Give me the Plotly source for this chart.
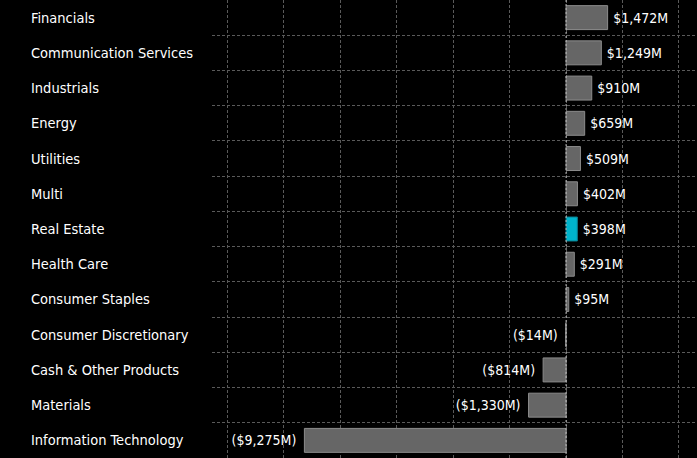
import plotly.graph_objects as go

categories = ["Financials", "Communication Services", "Industrials", "Energy", "Utilities",
              "Multi", "Real Estate", "Health Care", "Consumer Staples",
              "Consumer Discretionary", "Cash & Other Products", "Materials",
              "Information Technology"]
values = [1472, 1249, 910, 659, 509, 402, 398, 291, 95, -14, -814, -1330, -9275]
highlight = "Real Estate"

def fmt(v):
    s = "${:,}M".format(abs(v))
    return "(" + s + ")\u2009\u2009" if v < 0 else "\u2009" + s

labels = [fmt(v) for v in values]
colors = ["#00b4cc" if c == highlight else "#666666" for c in categories]
outlines = ["#0a7f90" if c == highlight else "#8c8c8c" for c in categories]

FONT = "DejaVu Sans Condensed"

fig = go.Figure(go.Bar(
    y=categories, x=values, orientation="h",
    marker=dict(color=colors, line=dict(color=outlines, width=1)),
    text=labels, textposition="outside", cliponaxis=False,
    textfont=dict(color="#ffffff", size=14, family=FONT),
))

W, H = 697, 458
ml = 212
fig.update_layout(
    width=W, height=H,
    paper_bgcolor="#000000", plot_bgcolor="#000000",
    margin=dict(l=ml, r=0, t=0, b=0),
    bargap=0.32, showlegend=False,
    font=dict(family=FONT, color="#ffffff", size=13),
)
fig.update_xaxes(
    range=[-12550, 4640], dtick=2000, tick0=0,
    showgrid=True, gridcolor="#5a5a5a", griddash="3px,2px", gridwidth=1,
    zeroline=False, showticklabels=False, ticks="",
)
fig.update_yaxes(
    categoryorder="array", categoryarray=categories[::-1],
    tickson="boundaries", showgrid=True, gridcolor="#5a5a5a", griddash="3px,2px",
    showticklabels=False, ticks="", zeroline=False,
    range=[-0.5, 12.5],
)
# zero line
fig.add_vline(x=0, line=dict(color="#bbbbbb", width=1, dash="2px,2px"))
# left-aligned category labels
for c in categories:
    fig.add_annotation(x=-(ml - 29) / (W - ml), xref="paper", y=c, yref="y",
                       text=c, showarrow=False, xanchor="left",
                       font=dict(family=FONT, size=14.5, color="#ffffff"))

fig.write_html("out.html", config={"displayModeBar": False},
               post_script="document.body.style.margin='0';document.body.style.background='#000';")
